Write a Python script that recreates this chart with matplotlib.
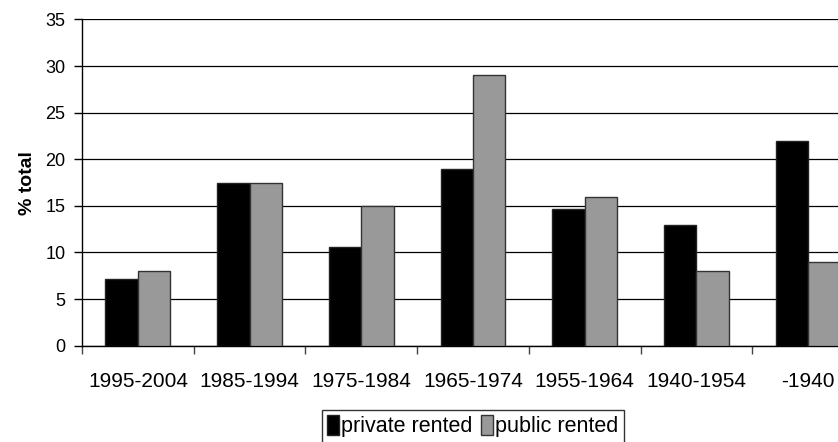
import numpy as np
import matplotlib.pyplot as plt

plt.rcParams['font.family'] = ['Liberation Sans', 'DejaVu Sans']

periods = ['1995-2004', '1985-1994', '1975-1984', '1965-1974',
           '1955-1964', '1940-1954', '-1940']
private_rented = [7.2, 17.5, 10.6, 19.0, 14.7, 12.9, 22.0]
public_rented = [8.0, 17.5, 15.0, 29.0, 16.0, 8.0, 9.0]

fig = plt.figure(figsize=(8.38, 4.42), dpi=100)
# plot area runs past the right edge of the picture, like the reference
ax = fig.add_axes([0.0979, 0.2179, 0.933, 0.738])

x = np.arange(len(periods)) + 0.5
w = 0.29
ax.bar(x - w / 2, private_rented, w, color='black', edgecolor='#222222',
       linewidth=1, label='private rented', zorder=3)
ax.bar(x + w / 2, public_rented, w, color='#999999', edgecolor='#333333',
       linewidth=1, label='public rented', zorder=3)

ax.set_xlim(0, len(periods))
ax.set_ylim(0, 35)
ax.set_yticks(np.arange(0, 36, 5))
ax.yaxis.grid(True, color='black', linewidth=0.9, zorder=0)

# category labels at centres, tick marks at boundaries
ax.set_xticks(x)
ax.set_xticklabels(periods, fontsize=15)
ax.tick_params(axis='x', which='major', length=0, pad=19)
ax.set_xticks(np.arange(0, len(periods) + 1), minor=True)
ax.tick_params(axis='x', which='minor', length=6, width=1, color='#444444')
ax.tick_params(axis='y', length=6, width=1, pad=6, labelsize=13)

for s in ['top', 'right']:
    ax.spines[s].set_visible(False)
ax.spines['left'].set_linewidth(1)
ax.spines['bottom'].set_linewidth(1)

ax.set_ylabel('% total', fontsize=14, fontweight='bold', labelpad=7)

leg = fig.legend(loc='upper center', bbox_to_anchor=(473 / 838, 1 - 410 / 442),
                 ncol=2, fontsize=15.5, frameon=True, fancybox=False,
                 handlelength=0.55, handleheight=1.0, handletextpad=0.1,
                 columnspacing=0.4, borderpad=0.25, borderaxespad=0)
leg.get_frame().set_edgecolor('black')
leg.get_frame().set_linewidth(1)

fig.savefig('out.png', dpi=100)
